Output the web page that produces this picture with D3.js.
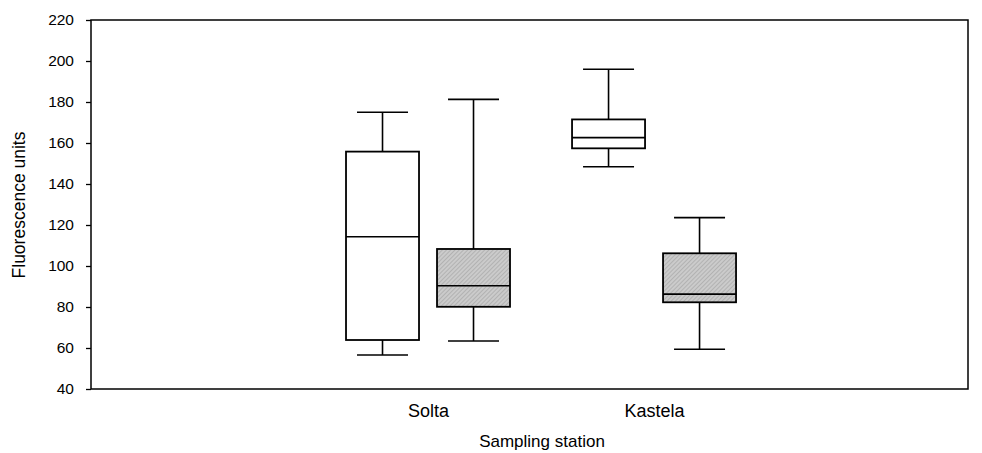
<!DOCTYPE html>
<html>
<head>
<meta charset="utf-8">
<script src="https://cdn.jsdelivr.net/npm/d3@7"></script>
<style>
  html, body { margin: 0; padding: 0; background: #fff; }
  svg { display: block; }
  text { font-family: Arial, "Liberation Sans", sans-serif; fill: #000; }
</style>
</head>
<body>
<svg id="chart" width="982" height="453"></svg>
<script>
// Sampling stations and the two measurement groups per station
const stations = ["Solta", "Kastela"];
const groups = ["open", "hatched"];

// Box-plot summaries: [min, q1, median, q3, max] per station, per group
const openStats = [
  [56.6, 63.9, 114.3, 155.8, 175.0],
  [148.4, 157.4, 162.6, 171.5, 196.0]
];
const hatchedStats = [
  [63.4, 80.1, 90.4, 108.3, 181.3],
  [59.4, 82.3, 86.3, 106.2, 123.6]
];

const yTicks = [40, 60, 80, 100, 120, 140, 160, 180, 200, 220];

(function () {
  const svg = d3.select("#chart");
  const m = { left: 91, right: 968, top: 20, bottom: 389 };
  const font = "Arial, 'Liberation Sans', sans-serif";

  const y = d3.scaleLinear().domain([40, 220]).range([m.bottom, m.top]);
  // station positions along the horizontal axis (Solta = 1, Kastela = 2)
  const x = d3.scaleLinear().domain([-0.491, 3.389]).range([m.left, m.right]);
  const boxW = 73, capW = 51, groupOffset = 45.5;

  // hatch pattern for the shaded boxes
  const defs = svg.append("defs");
  const pat = defs.append("pattern")
    .attr("id", "hatch").attr("patternUnits", "userSpaceOnUse")
    .attr("width", 3).attr("height", 3)
    .attr("patternTransform", "rotate(45)");
  pat.append("rect").attr("width", 3).attr("height", 3).attr("fill", "#cbcbcb");
  pat.append("line").attr("x1", 0).attr("y1", 0).attr("x2", 0).attr("y2", 3)
    .attr("stroke", "#9a9a9a").attr("stroke-width", 1);

  // plot frame
  svg.append("rect")
    .attr("x", m.left).attr("y", m.top)
    .attr("width", m.right - m.left).attr("height", m.bottom - m.top)
    .attr("fill", "none").attr("stroke", "#000").attr("stroke-width", 1.5);

  // y axis
  const yAxis = d3.axisLeft(y).tickValues(yTicks).tickSize(5).tickPadding(12);
  const ya = svg.append("g").attr("transform", `translate(${m.left},0)`).call(yAxis);
  ya.select(".domain").remove();
  ya.selectAll("line").attr("stroke", "#000").attr("stroke-width", 1.3);
  ya.selectAll("text").style("font-size", "15.5px").style("font-family", font);

  // x axis labels (no tick marks)
  const xAxis = d3.axisBottom(x).tickValues([1, 2])
    .tickFormat((d, i) => stations[i]).tickSize(0).tickPadding(15);
  const xa = svg.append("g").attr("transform", `translate(0,${m.bottom})`).call(xAxis);
  xa.select(".domain").remove();
  xa.selectAll("text").style("font-size", "18px").style("font-family", font);

  // axis titles
  svg.append("text")
    .attr("transform", `translate(25,205) rotate(-90)`)
    .attr("text-anchor", "middle")
    .style("font-size", "17.5px")
    .text("Fluorescence units");
  svg.append("text")
    .attr("x", 542).attr("y", 447)
    .attr("text-anchor", "middle")
    .style("font-size", "17px")
    .text("Sampling station");

  // draw one box plot
  function drawBox(cx, s, fill) {
    const [mn, q1, med, q3, mx] = s;
    const g = svg.append("g").attr("stroke", "#000").attr("stroke-width", 1.6);
    g.append("line").attr("x1", cx).attr("x2", cx).attr("y1", y(mx)).attr("y2", y(q3));
    g.append("line").attr("x1", cx).attr("x2", cx).attr("y1", y(q1)).attr("y2", y(mn));
    g.append("line").attr("x1", cx - capW / 2).attr("x2", cx + capW / 2).attr("y1", y(mx)).attr("y2", y(mx));
    g.append("line").attr("x1", cx - capW / 2).attr("x2", cx + capW / 2).attr("y1", y(mn)).attr("y2", y(mn));
    g.append("rect").attr("x", cx - boxW / 2).attr("width", boxW)
      .attr("y", y(q3)).attr("height", y(q1) - y(q3))
      .attr("fill", fill).attr("stroke-width", 1.8);
    g.append("line").attr("x1", cx - boxW / 2).attr("x2", cx + boxW / 2)
      .attr("y1", y(med)).attr("y2", y(med));
  }

  stations.forEach((st, i) => {
    const cx = x(i + 1);
    drawBox(cx - groupOffset, openStats[i], "#fff");
    drawBox(cx + groupOffset, hatchedStats[i], "url(#hatch)");
  });
})();
</script>
</body>
</html>
